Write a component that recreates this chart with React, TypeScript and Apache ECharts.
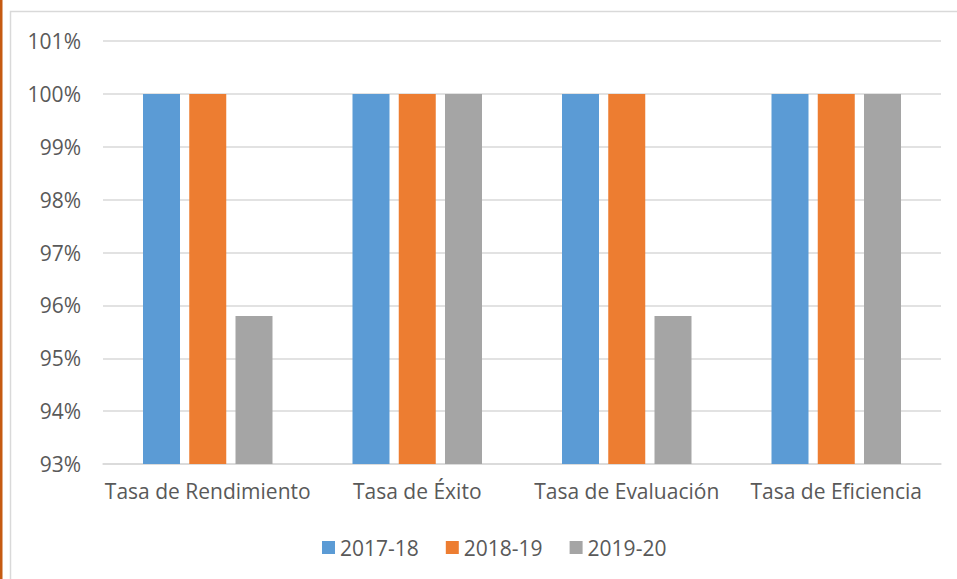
import React, { useEffect, useRef } from "react";
import * as echarts from "echarts";

const categories = ["Tasa de Rendimiento", "Tasa de Éxito", "Tasa de Evaluación", "Tasa de Eficiencia"];
const seriesNames = ["2017-18", "2018-19", "2019-20"];
const values2017 = [100, 100, 100, 100];
const values2018 = [100, 100, 100, 100];
const values2019 = [95.8, 100, 95.8, 100];
const colors = ["#5b9bd5", "#ed7d31", "#a5a5a5"];

export default function App() {
  const ref = useRef<HTMLDivElement>(null);
  useEffect(() => {
    const chart = echarts.init(ref.current!, null, { renderer: "svg" });
    const font = "Open Sans";
    const data = [values2017, values2018, values2019];
    chart.setOption({
      animation: false,
      backgroundColor: "#ffffff",
      textStyle: { fontFamily: font },
      graphic: [
        {
          type: "rect",
          shape: { x: 10.5, y: 11.5, width: 1000, height: 700 },
          style: { fill: "none", stroke: "#d9d9d9", lineWidth: 1.5 },
          silent: true,
        },
        {
          type: "rect",
          shape: { x: 0, y: 0, width: 2.5, height: 579 },
          style: { fill: "#c55a11" },
          silent: true,
        },
      ],
      grid: { left: 103, right: 16, top: 41, bottom: 115, containLabel: false },
      legend: {
        bottom: 16,
        left: 317,
        itemWidth: 13,
        itemHeight: 13,
        itemGap: 27,
        icon: "rect",
        textStyle: { fontFamily: font, fontSize: 21, color: "#595959" },
        data: seriesNames,
      },
      xAxis: {
        type: "category",
        data: categories,
        axisLine: { lineStyle: { color: "#d9d9d9", width: 1.5 } },
        axisTick: { show: false },
        axisLabel: { interval: 0, fontFamily: font, fontSize: 21, color: "#595959", margin: 16 },
      },
      yAxis: {
        type: "value",
        min: 93,
        max: 101,
        interval: 1,
        axisLine: { show: false },
        axisTick: { show: false },
        splitLine: { lineStyle: { color: "#d9d9d9", width: 1.5 } },
        axisLabel: {
          fontFamily: font,
          fontSize: 21,
          color: "#595959",
          margin: 22,
          formatter: (v: number) => v + "%",
        },
      },
      series: seriesNames.map((name, i) => ({
        name,
        type: "bar",
        data: data[i],
        barWidth: 37,
        barGap: "25%",
        itemStyle: { color: colors[i] },
      })),
    });
    return () => chart.dispose();
  }, []);
  return (
    <div
      ref={ref}
      style={{ position: "fixed", left: 0, top: 0, width: 957, height: 579 }}
    />
  );
}
